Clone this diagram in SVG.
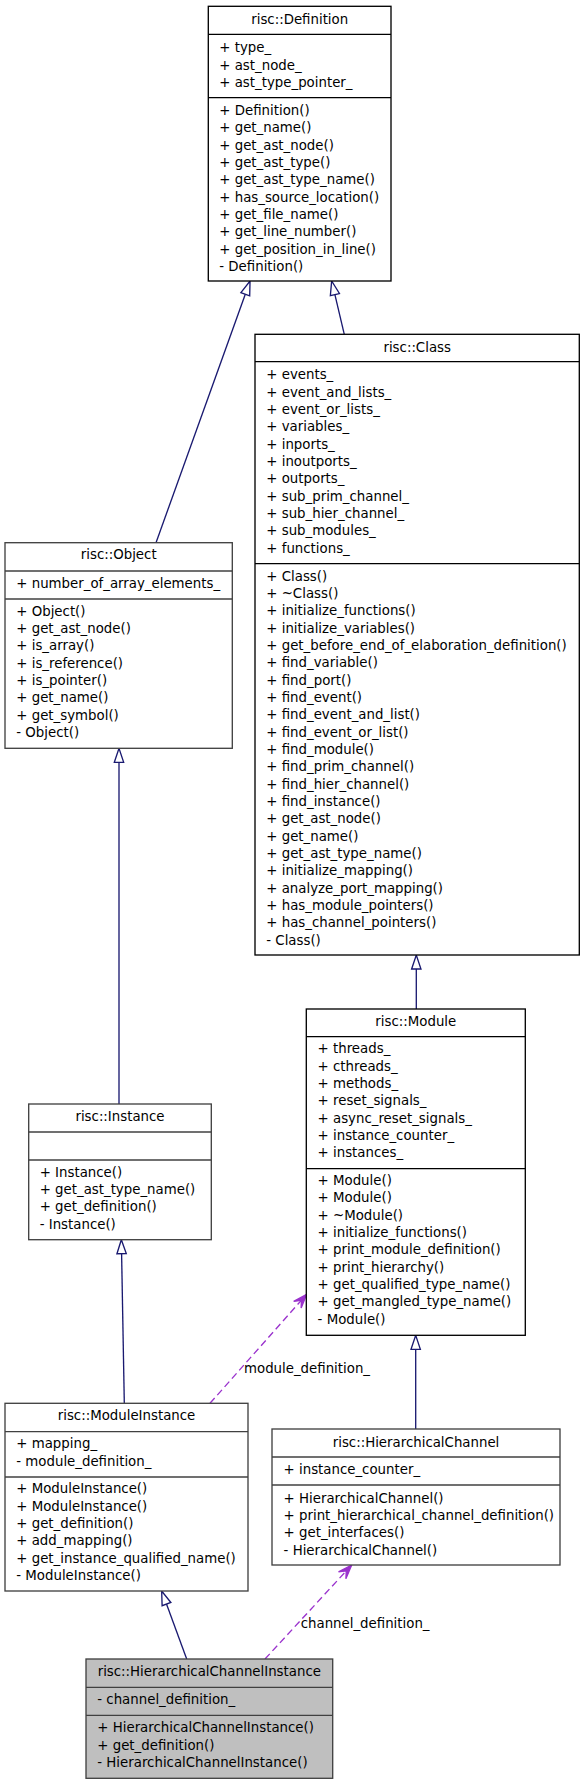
<svg xmlns="http://www.w3.org/2000/svg" width="584" height="1784" viewBox="0 0 584 1784">
<style>
text{font-family:"DejaVu Sans","Liberation Sans",sans-serif;font-size:13.33px;fill:#000}
.t{text-anchor:middle}
.box{fill:#fff;stroke:#000;stroke-width:1.33}
.boxg{fill:#fff;stroke:#404040;stroke-width:1.33}
.cur{fill:#bfbfbf;stroke:#404040;stroke-width:1.33}
.div{stroke:#000;stroke-width:1.33}
.divg{stroke:#404040;stroke-width:1.33}
.inh{fill:none;stroke:#191970;stroke-width:1.33}
.use{fill:none;stroke:#9a32cd;stroke-width:1.33;stroke-dasharray:7,4}
</style>
<defs>
<marker id="tri" markerUnits="userSpaceOnUse" orient="auto" refX="0" refY="0" markerWidth="16" markerHeight="12" overflow="visible">
<path d="M0,-4.67 L14,0 L0,4.67 Z" fill="#fff" stroke="#191970" stroke-width="1.33"/>
</marker>
<marker id="vee" markerUnits="userSpaceOnUse" orient="auto" refX="0" refY="0" markerWidth="16" markerHeight="12" overflow="visible">
<path d="M0,0 L-14,-5 L-8,0 L-14,5 Z" fill="#9a32cd" stroke="#9a32cd" stroke-width="1.33" stroke-linejoin="miter"/>
</marker>
</defs>

<g id="connectors">
<path class="inh" d="M156,542.7 L245.3,294.2" marker-end="url(#tri)"/>
<path class="inh" d="M344.3,334.3 L334.9,294.6" marker-end="url(#tri)"/>
<path class="inh" d="M119,1104 L119,762.3" marker-end="url(#tri)"/>
<path class="inh" d="M416.3,1009 L416.3,969" marker-end="url(#tri)"/>
<path class="inh" d="M124.3,1403.3 L121.6,1253.7" marker-end="url(#tri)"/>
<path class="inh" d="M415.7,1429 L415.7,1349.3" marker-end="url(#tri)"/>
<path class="inh" d="M186.7,1659 L166.5,1604.1" marker-end="url(#tri)"/>
<path class="use" d="M210,1403.3 L306.7,1294.3" marker-end="url(#vee)"/>
<path class="use" d="M265,1659 L351.7,1565" marker-end="url(#vee)"/>
<text x="244" y="1372.7">module_definition_</text>
<text x="300.7" y="1628.3">channel_definition_</text>
</g>

<g id="Definition">
<rect class="box" x="208.3" y="6.3" width="182.7" height="274.7"/>
<line class="div" x1="208.3" y1="34.3" x2="391" y2="34.3"/>
<line class="div" x1="208.3" y1="97.7" x2="391" y2="97.7"/>
<text class="t" x="299.7" y="24.3">risc::Definition</text>
<text x="219.3" y="52.3">+ type_</text>
<text x="219.3" y="69.6">+ ast_node_</text>
<text x="219.3" y="87">+ ast_type_pointer_</text>
<text x="219.3" y="115">+ Definition()</text>
<text x="219.3" y="132.3">+ get_name()</text>
<text x="219.3" y="149.7">+ get_ast_node()</text>
<text x="219.3" y="167">+ get_ast_type()</text>
<text x="219.3" y="184.3">+ get_ast_type_name()</text>
<text x="219.3" y="201.7">+ has_source_location()</text>
<text x="219.3" y="219">+ get_file_name()</text>
<text x="219.3" y="236.3">+ get_line_number()</text>
<text x="219.3" y="253.7">+ get_position_in_line()</text>
<text x="219.3" y="271">- Definition()</text>
</g>

<g id="Class">
<rect class="box" x="255" y="334.3" width="324.3" height="620.7"/>
<line class="div" x1="255" y1="361.7" x2="579.3" y2="361.7"/>
<line class="div" x1="255" y1="563.7" x2="579.3" y2="563.7"/>
<text class="t" x="417.2" y="351.7">risc::Class</text>
<text x="266.3" y="379.3">+ events_</text>
<text x="266.3" y="396.6">+ event_and_lists_</text>
<text x="266.3" y="414">+ event_or_lists_</text>
<text x="266.3" y="431.3">+ variables_</text>
<text x="266.3" y="448.6">+ inports_</text>
<text x="266.3" y="466">+ inoutports_</text>
<text x="266.3" y="483.3">+ outports_</text>
<text x="266.3" y="500.6">+ sub_prim_channel_</text>
<text x="266.3" y="518">+ sub_hier_channel_</text>
<text x="266.3" y="535.3">+ sub_modules_</text>
<text x="266.3" y="552.6">+ functions_</text>
<text x="266.3" y="580.7">+ Class()</text>
<text x="266.3" y="598">+ ~Class()</text>
<text x="266.3" y="615.4">+ initialize_functions()</text>
<text x="266.3" y="632.7">+ initialize_variables()</text>
<text x="266.3" y="650">+ get_before_end_of_elaboration_definition()</text>
<text x="266.3" y="667.4">+ find_variable()</text>
<text x="266.3" y="684.7">+ find_port()</text>
<text x="266.3" y="702">+ find_event()</text>
<text x="266.3" y="719.3">+ find_event_and_list()</text>
<text x="266.3" y="736.7">+ find_event_or_list()</text>
<text x="266.3" y="754">+ find_module()</text>
<text x="266.3" y="771.3">+ find_prim_channel()</text>
<text x="266.3" y="788.7">+ find_hier_channel()</text>
<text x="266.3" y="806">+ find_instance()</text>
<text x="266.3" y="823.3">+ get_ast_node()</text>
<text x="266.3" y="840.7">+ get_name()</text>
<text x="266.3" y="858">+ get_ast_type_name()</text>
<text x="266.3" y="875.3">+ initialize_mapping()</text>
<text x="266.3" y="892.7">+ analyze_port_mapping()</text>
<text x="266.3" y="910">+ has_module_pointers()</text>
<text x="266.3" y="927.3">+ has_channel_pointers()</text>
<text x="266.3" y="944.7">- Class()</text>
</g>

<g id="Object">
<rect class="boxg" x="5" y="542.7" width="227.3" height="205.6"/>
<line class="divg" x1="5" y1="571" x2="232.3" y2="571"/>
<line class="divg" x1="5" y1="599" x2="232.3" y2="599"/>
<text class="t" x="118.7" y="559.3">risc::Object</text>
<text x="16.3" y="587.7">+ number_of_array_elements_</text>
<text x="16.3" y="615.7">+ Object()</text>
<text x="16.3" y="633">+ get_ast_node()</text>
<text x="16.3" y="650.3">+ is_array()</text>
<text x="16.3" y="667.7">+ is_reference()</text>
<text x="16.3" y="685">+ is_pointer()</text>
<text x="16.3" y="702.3">+ get_name()</text>
<text x="16.3" y="719.7">+ get_symbol()</text>
<text x="16.3" y="737">- Object()</text>
</g>

<g id="Instance">
<rect class="boxg" x="28.7" y="1104" width="182.6" height="135.7"/>
<line class="divg" x1="28.7" y1="1132" x2="211.3" y2="1132"/>
<line class="divg" x1="28.7" y1="1160" x2="211.3" y2="1160"/>
<text class="t" x="120" y="1120.7">risc::Instance</text>
<text x="39.7" y="1176.7">+ Instance()</text>
<text x="39.7" y="1194">+ get_ast_type_name()</text>
<text x="39.7" y="1211.3">+ get_definition()</text>
<text x="39.7" y="1228.7">- Instance()</text>
</g>

<g id="Module">
<rect class="box" x="306.3" y="1009" width="219" height="326.3"/>
<line class="div" x1="306.3" y1="1036.7" x2="525.3" y2="1036.7"/>
<line class="div" x1="306.3" y1="1168.7" x2="525.3" y2="1168.7"/>
<text class="t" x="415.8" y="1026">risc::Module</text>
<text x="317.6" y="1053.3">+ threads_</text>
<text x="317.6" y="1070.6">+ cthreads_</text>
<text x="317.6" y="1088">+ methods_</text>
<text x="317.6" y="1105.3">+ reset_signals_</text>
<text x="317.6" y="1122.6">+ async_reset_signals_</text>
<text x="317.6" y="1140">+ instance_counter_</text>
<text x="317.6" y="1157.3">+ instances_</text>
<text x="317.6" y="1185">+ Module()</text>
<text x="317.6" y="1202.3">+ Module()</text>
<text x="317.6" y="1219.7">+ ~Module()</text>
<text x="317.6" y="1237">+ initialize_functions()</text>
<text x="317.6" y="1254.3">+ print_module_definition()</text>
<text x="317.6" y="1271.7">+ print_hierarchy()</text>
<text x="317.6" y="1289">+ get_qualified_type_name()</text>
<text x="317.6" y="1306.3">+ get_mangled_type_name()</text>
<text x="317.6" y="1323.7">- Module()</text>
</g>

<g id="ModuleInstance">
<rect class="boxg" x="5" y="1403.3" width="243" height="187.7"/>
<line class="divg" x1="5" y1="1431.7" x2="248" y2="1431.7"/>
<line class="divg" x1="5" y1="1477" x2="248" y2="1477"/>
<text class="t" x="126.5" y="1420">risc::ModuleInstance</text>
<text x="16.3" y="1448.3">+ mapping_</text>
<text x="16.3" y="1465.7">- module_definition_</text>
<text x="16.3" y="1493.3">+ ModuleInstance()</text>
<text x="16.3" y="1510.7">+ ModuleInstance()</text>
<text x="16.3" y="1528">+ get_definition()</text>
<text x="16.3" y="1545.3">+ add_mapping()</text>
<text x="16.3" y="1562.7">+ get_instance_qualified_name()</text>
<text x="16.3" y="1580">- ModuleInstance()</text>
</g>

<g id="HierarchicalChannel">
<rect class="boxg" x="272" y="1429" width="288" height="136"/>
<line class="divg" x1="272" y1="1457" x2="560" y2="1457"/>
<line class="divg" x1="272" y1="1485" x2="560" y2="1485"/>
<text class="t" x="416" y="1446.7">risc::HierarchicalChannel</text>
<text x="283.6" y="1474.3">+ instance_counter_</text>
<text x="283.6" y="1502.7">+ HierarchicalChannel()</text>
<text x="283.6" y="1520">+ print_hierarchical_channel_definition()</text>
<text x="283.6" y="1537.3">+ get_interfaces()</text>
<text x="283.6" y="1554.7">- HierarchicalChannel()</text>
</g>

<g id="HierarchicalChannelInstance">
<rect class="cur" x="86" y="1659" width="246.7" height="119.3"/>
<line class="divg" x1="86" y1="1687.3" x2="332.7" y2="1687.3"/>
<line class="divg" x1="86" y1="1715.3" x2="332.7" y2="1715.3"/>
<text class="t" x="209.3" y="1676">risc::HierarchicalChannelInstance</text>
<text x="97.3" y="1704">- channel_definition_</text>
<text x="97.3" y="1732.3">+ HierarchicalChannelInstance()</text>
<text x="97.3" y="1749.7">+ get_definition()</text>
<text x="97.3" y="1767">- HierarchicalChannelInstance()</text>
</g>
</svg>
